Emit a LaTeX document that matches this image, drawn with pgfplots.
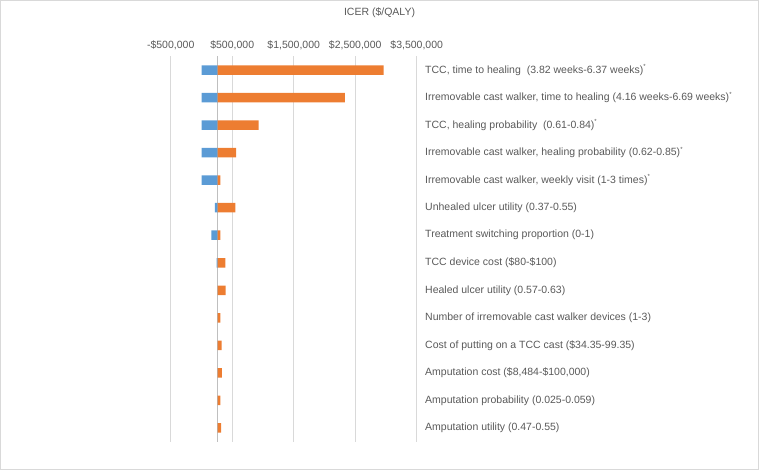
\documentclass[border=0pt]{standalone}
\usepackage{pgfplots}
\usepackage{pgfplotstable}
\pgfplotsset{compat=1.18}
\usepackage{fontspec}
\setmainfont{Liberation Sans}
\definecolor{txt}{HTML}{595959}
\definecolor{barblue}{HTML}{5B9BD5}
\definecolor{barorange}{HTML}{ED7D31}
\definecolor{gridc}{HTML}{D9D9D9}
\definecolor{basec}{HTML}{BFBFBF}
\definecolor{framec}{HTML}{D9D9D9}
\newcommand{\sig}{\raisebox{0.45em}{\fontsize{6}{6}\selectfont *}}

% base-case ICER = 264000; low/high ICER for each parameter
\pgfplotstableread{
row low high
1 4000 2963000
2 4000 2334000
3 4000 931000
4 4000 562000
5 4000 306000
6 220000 550000
7 160000 306000
8 248000 388000
9 264000 394000
10 264000 306000
11 264000 329000
12 264000 334000
13 264000 306000
14 264000 318000
}\tornado

\begin{document}
\begin{tikzpicture}[x=1pt,y=1pt]
\path[use as bounding box] (0,0) rectangle (759,470);
\draw[framec,line width=0.8pt] (0.5,0.5) rectangle (758.5,469.5);
\node[txt,font=\fontsize{10.5}{12}\selectfont] at (379.5,457) {ICER (\$/QALY)};
\begin{axis}[
  at={(170.7pt,28.3pt)}, anchor=south west,
  scale only axis, width=246pt, height=385.4pt,
  xmin=-764000, xmax=3236000,
  ymin=0.5, ymax=14.5, y dir=reverse,
  axis line style={draw=none},
  major tick length=0pt,
  tick style={draw=none},
  xtick={-764000,236000,1236000,2236000,3236000},
  xticklabels={{-\$500,000},{\$500,000},{\$1,500,000},{\$2,500,000},{\$3,500,000}},
  xticklabel pos=upper,
  xticklabel style={anchor=base, yshift=7.5pt, font=\fontsize{10.5}{12}\selectfont, text=txt},
  scaled x ticks=false,
  xmajorgrids,
  grid style={color=gridc, line width=0.8pt},
  extra x ticks={0},
  extra x tick labels={},
  extra x tick style={grid style={color=basec, line width=0.8pt}},
  ytick={1,...,14},
  yticklabels={
    {TCC, time to healing\ \ (3.82 weeks-6.37 weeks)\sig},
    {Irremovable cast walker, time to healing (4.16 weeks-6.69 weeks)\sig},
    {TCC, healing probability\ \ (0.61-0.84)\sig},
    {Irremovable cast walker, healing probability (0.62-0.85)\sig},
    {Irremovable cast walker, weekly visit (1-3 times)\sig},
    {Unhealed ulcer utility (0.37-0.55)},
    {Treatment switching proportion (0-1)},
    {TCC device cost (\$80-\$100)},
    {Healed ulcer utility (0.57-0.63)},
    {Number of irremovable cast walker devices (1-3)},
    {Cost of putting on a TCC cast (\$34.35-99.35)},
    {Amputation cost (\$8,484-\$100,000)},
    {Amputation probability (0.025-0.059)},
    {Amputation utility (0.47-0.55)}},
  yticklabel pos=upper,
  yticklabel style={anchor=west, xshift=5pt, font=\fontsize{10.5}{12}\selectfont, text=txt},
]
\addplot[xbar, bar width=9.5pt, bar shift=0pt, draw=none, fill=barblue]
  table[y=row, x expr=\thisrow{low}-264000] {\tornado};
\addplot[xbar, bar width=9.5pt, bar shift=0pt, draw=none, fill=barorange]
  table[y=row, x expr=\thisrow{high}-264000] {\tornado};
\end{axis}
\end{tikzpicture}
\end{document}
